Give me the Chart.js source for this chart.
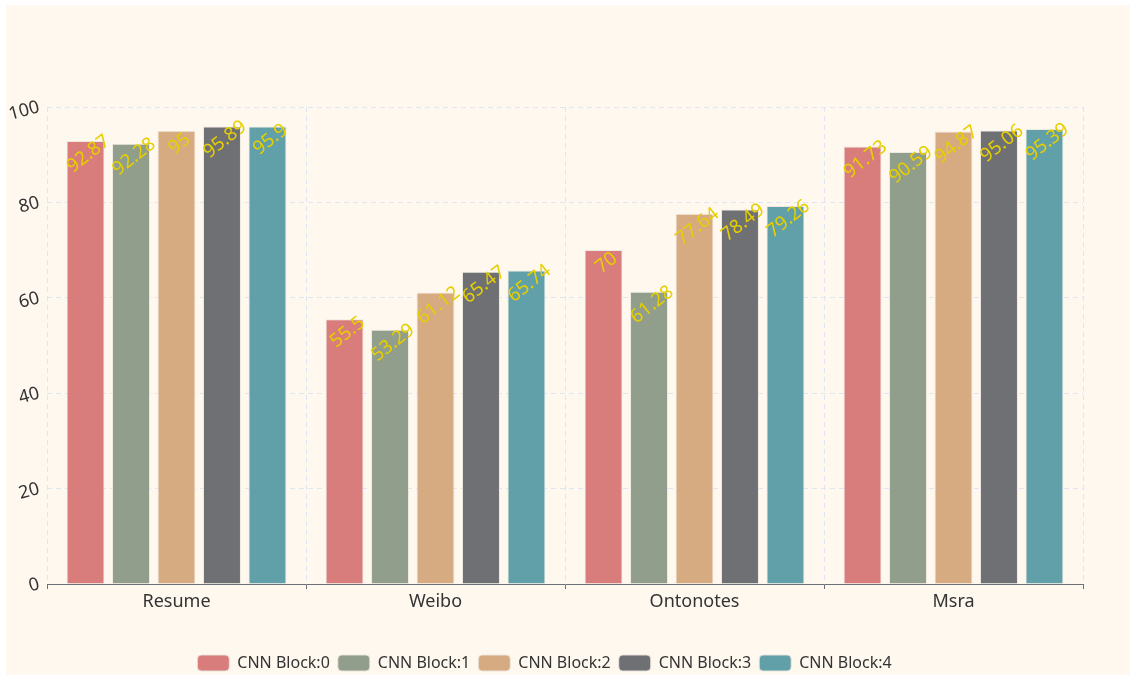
<!DOCTYPE html>
<html>
<head>
<meta charset="utf-8">
<script src="https://cdn.jsdelivr.net/npm/chart.js@4"></script>
<style>
  html, body { margin:0; padding:0; background:#ffffff; }
  #wrap { position:absolute; left:6px; top:5px; width:1124px; height:670px; background:#fef8ef; }
</style>
</head>
<body>
<div id="wrap"><canvas id="c"></canvas></div>
<script>
const categories = ['Resume', 'Weibo', 'Ontonotes', 'Msra'];
const seriesNames = ['CNN Block:0', 'CNN Block:1', 'CNN Block:2', 'CNN Block:3', 'CNN Block:4'];
const block0 = [92.87, 55.5, 70, 91.73];
const block1 = [92.28, 53.29, 61.28, 90.59];
const block2 = [95, 61.12, 77.64, 94.87];
const block3 = [95.89, 65.47, 78.49, 95.06];
const block4 = [95.9, 65.74, 79.26, 95.39];
const yTicks = [0, 20, 40, 60, 80, 100];

const colors = ['#d87c7c', '#919e8b', '#d7ab82', '#6e7074', '#61a0a8'];
const seriesValues = [block0, block1, block2, block3, block4];
const FONT = '"Noto Sans", "Open Sans", sans-serif';

const labelPlugin = {
  id: 'valueLabels',
  afterDatasetsDraw(chart) {
    const ctx = chart.ctx;
    ctx.save();
    ctx.font = '19px ' + FONT;
    ctx.fillStyle = '#e6cf00';
    ctx.textAlign = 'center';
    ctx.textBaseline = 'middle';
    chart.data.datasets.forEach((ds, di) => {
      const meta = chart.getDatasetMeta(di);
      meta.data.forEach((el, i) => {
        ctx.save();
        ctx.translate(el.x + 3, el.y + 13);
        ctx.rotate(-38 * Math.PI / 180);
        ctx.fillText(String(ds.data[i]), 0, 0);
        ctx.restore();
      });
    });
    ctx.restore();
  }
};

new Chart(document.getElementById('c'), {
  type: 'bar',
  data: {
    labels: categories,
    datasets: seriesNames.map((n, k) => ({
      label: n,
      data: seriesValues[k],
      backgroundColor: colors[k],
      borderColor: 'rgba(235,230,222,0.9)',
      borderWidth: 1,
      categoryPercentage: 0.878,
      barPercentage: 0.835
    }))
  },
  options: {
    responsive: true,
    maintainAspectRatio: false,
    animation: false,
    layout: { padding: { left: 0, right: 47, top: 102, bottom: -6 } },
    plugins: {
      legend: {
        position: 'bottom',
        labels: {
          font: { family: FONT, size: 16 },
          color: '#333',
          boxWidth: 32,
          boxHeight: 16,
          useBorderRadius: true,
          borderRadius: 4,
          padding: 8
        }
      },
      tooltip: { enabled: false }
    },
    scales: {
      x: {
        grid: {
          display: true,
          color: '#e0e6f1',
          tickColor: '#6e7079',
          tickLength: 5,
          tickBorderDash: [],
          offset: true
        },
        border: { display: true, color: '#6e7079', width: 1, dash: [5, 4] },
        ticks: { font: { family: FONT, size: 18 }, color: '#333', padding: 2 },
        afterFit(s) { s.height = 63; }
      },
      y: {
        min: 0, max: 100,
        afterBuildTicks(s) { s.ticks = yTicks.map(v => ({ value: v })); },
        grid: { color: '#e0e6f1', drawTicks: false },
        border: { display: false, dash: [5, 4] },
        ticks: { font: { family: FONT, size: 18 }, color: '#333', padding: 8, minRotation: 15, maxRotation: 15 },
        afterFit(s) { s.width = 41; }
      }
    }
  },
  plugins: [labelPlugin]
});
</script>
</body>
</html>
